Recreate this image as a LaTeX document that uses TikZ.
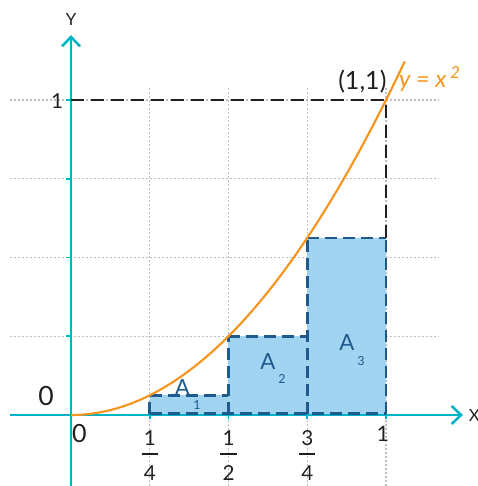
\documentclass[tikz,border=0pt]{standalone}
\usepackage{fontspec}
\setmainfont{Lato}
\usetikzlibrary{arrows.meta}
\definecolor{axiscyan}{RGB}{0,180,200}
\definecolor{curveorange}{RGB}{247,148,30}
\definecolor{rectfill}{RGB}{160,212,240}
\definecolor{rectedge}{RGB}{30,90,140}
\definecolor{gridgray}{RGB}{190,190,190}
\definecolor{textdark}{RGB}{35,31,32}

\begin{document}
\begin{tikzpicture}[x=236.25pt, y=236.25pt,
  axis/.style={axiscyan, line width=1.9pt},
  gridline/.style={gridgray, line width=0.8pt, dash pattern=on 1.5pt off 1.5pt},
  guide/.style={textdark, line width=1.9pt, dash pattern=on 9.5pt off 5.5pt},
  bar/.style={rectedge, line width=1.9pt, dash pattern=on 9pt off 4.5pt},
  lbl/.style={textdark, inner sep=0pt},
  arealbl/.style={rectedge, inner sep=0pt, font=\fontsize{16.7}{18}\selectfont},
  arealow/.style={rectedge, inner sep=0pt, font=\fontsize{9.4}{11}\selectfont}]
  \useasboundingbox (-0.2254,-0.2254) rectangle (1.2921,1.3175);
  % grid
  \foreach \t in {0.25,0.5,0.75,1} {
    \draw[gridline] (\t,-0.2254) -- (\t,1.038);
    \draw[gridline] (-0.194,\t) -- (1.165,\t);
  }
  % axes
  \coordinate (xstart) at (-0.194,0);
  \coordinate (xend) at (1.244,0);
  \coordinate (ystart) at (0,-0.2254);
  \coordinate (yend) at (0,1.206);
  \draw[axis, -{Straight Barb[length=7pt,width=13.5pt]}] (xstart) -- (xend);
  \draw[axis, -{Straight Barb[length=7pt,width=13.5pt]}] (ystart) -- (yend);
  \foreach \t in {0.25,0.5,0.75,1} {
    \draw[axis, line width=1.4pt] (-0.016,\t) -- (0,\t);
    \draw[axis, line width=1.4pt] (\t,0) -- (\t,-0.012);
  }
  % rectangles under the curve
  \foreach \a/\b in {0.25/0.5, 0.5/0.75, 0.75/1} {
    \fill[rectfill] (\a,0.004) rectangle (\b,{\a*\a});
  }
  \draw[bar] (0.25,0.004) -- (1,0.004);
  \foreach \a/\b in {0.25/0.5, 0.5/0.75, 0.75/1} {
    \draw[bar] (\a,{\a*\a}) -- (\b,{\a*\a});
  }
  \foreach \x/\h in {0.25/0.0625, 0.5/0.25, 0.75/0.5625, 1/0.5625} {
    \draw[bar] (\x,0.004) -- (\x,\h);
  }
  % guide to (1,1)
  \coordinate (top) at (0,1);
  \coordinate (corner) at (1,1);
  \coordinate (foot) at (1,0.5625);
  \draw[guide] (top) -- (corner) -- (foot);
  % parabola
  \draw[curveorange, line width=1.6pt, domain=0:1.06, samples=60] plot (\x, {\x*\x});
  \node[lbl, font=\fontsize{12.6}{14}\selectfont] (ylab) at (0,1.257) {Y};
  \node[lbl, anchor=west, font=\fontsize{12.6}{14}\selectfont] (xlab) at (1.262,0) {X};
  % numbers on the axes
  \node[lbl, font=\fontsize{19.9}{22}\selectfont] (zeroleft) at (-0.079,0.059) {0};
  \node[lbl, font=\fontsize{18.8}{21}\selectfont] (zerobottom) at (0.027,-0.060) {0};
  \node[lbl, font=\fontsize{15.5}{17}\selectfont] (oneleft) at (-0.044,0.997) {1};
  \node[lbl, font=\fontsize{16}{18}\selectfont] (onebottom) at (0.99,-0.059) {1};
  \foreach \t/\n/\d [count=\i] in {0.25/1/4, 0.5/1/2, 0.75/3/4} {
    \node[lbl, font=\fontsize{15.5}{17}\selectfont] (num\i) at (\t,-0.0746) {\n};
    \node[lbl, font=\fontsize{15.5}{17}\selectfont] (den\i) at (\t,-0.183) {\d};
    \draw[textdark, line width=1.5pt] (\t-0.026,-0.124) -- (\t+0.026,-0.124);
  }
  \node[lbl, font=\fontsize{18.8}{21}\selectfont] (pointlab) at (0.925,1.059) {(1,1)};
  \node[curveorange, inner sep=0pt, anchor=base west, font=\fontsize{17.8}{20}\selectfont]
    (curvelab) at (1.041,1.041) {\itshape y = x\,\textsuperscript{2}};
  % area labels
  \node[arealbl] (aone) at (0.354,0.0857) {A};
  \node[arealow] (aonesub) at (0.400,0.0317) {1};
  \node[arealbl] (atwo) at (0.6254,0.1683) {A};
  \node[arealow] (atwosub) at (0.670,0.114) {2};
  \node[arealbl] (athree) at (0.876,0.2286) {A};
  \node[arealow] (athreesub) at (0.9206,0.1714) {3};
\end{tikzpicture}
\end{document}
